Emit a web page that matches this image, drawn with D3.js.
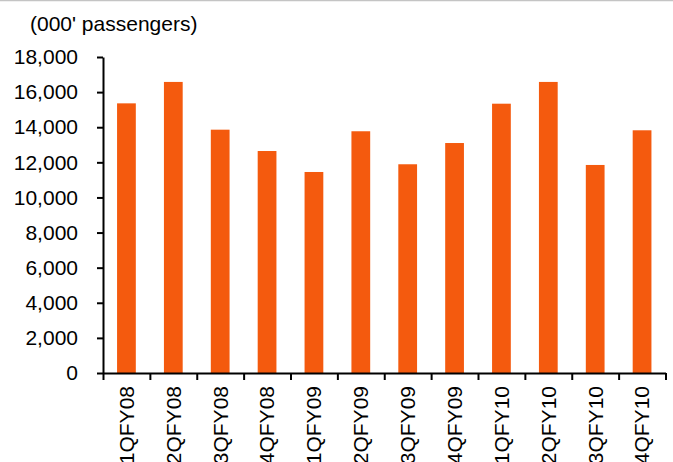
<!DOCTYPE html>
<html>
<head>
<meta charset="utf-8">
<script src="https://cdn.jsdelivr.net/npm/d3@7"></script>
<style>
  html, body { margin: 0; padding: 0; background: #ffffff; }
  svg { display: block; }
  text { font-family: "Liberation Sans", Arial, sans-serif; fill: #000; }
</style>
</head>
<body>
<svg id="chart" width="673" height="462"></svg>
<script>
const categories = ["1QFY08","2QFY08","3QFY08","4QFY08","1QFY09","2QFY09","3QFY09","4QFY09","1QFY10","2QFY10","3QFY10","4QFY10"];
const passengers = [15360, 16580, 13860, 12645, 11450, 13770, 11890, 13100, 15340, 16580, 11850, 13825];
const yTickValues = [0, 2000, 4000, 6000, 8000, 10000, 12000, 14000, 16000, 18000];
const unitLabel = "(000' passengers)";

(function () {
const svg = d3.select("#chart");
const W = 673, H = 462;
const mLeft = 103, mRight = 665.5, mTop = 57, mBottom = 373;

// top border line
svg.append("line")
  .attr("x1", 0).attr("x2", W).attr("y1", 0.5).attr("y2", 0.5)
  .attr("stroke", "#c4c4c4").attr("stroke-width", 1.5);

const x = d3.scaleBand().domain(categories).range([mLeft, mRight])
  .paddingInner(0.6).paddingOuter(0.3);
const xEdges = d3.scaleLinear().domain([0, categories.length]).range([mLeft, mRight]);
const y = d3.scaleLinear().domain([0, 18000]).range([mBottom, mTop]);

// bars
svg.append("g").selectAll("rect").data(passengers).join("rect")
  .attr("x", (d, i) => x(categories[i]))
  .attr("width", x.bandwidth())
  .attr("y", d => y(d))
  .attr("height", d => y(0) - y(d))
  .attr("fill", "#F45A0E");

// y axis
const yAxis = svg.append("g").attr("transform", `translate(${mLeft},0)`)
  .call(d3.axisLeft(y).tickValues(yTickValues).tickFormat(d3.format(","))
    .tickSize(6).tickSizeOuter(0).tickPadding(19));
yAxis.select(".domain").attr("stroke", "#000").attr("stroke-width", 2);
yAxis.selectAll(".tick line").attr("stroke", "#000").attr("stroke-width", 2);
yAxis.selectAll(".tick text").style("font-size", "21px")
  .style("font-family", '"Liberation Sans", Arial, sans-serif').attr("fill", "#000");

// x axis (ticks between categories)
const xAxis = svg.append("g").attr("transform", `translate(0,${mBottom})`)
  .call(d3.axisBottom(xEdges).tickValues(d3.range(categories.length + 1))
    .tickFormat("").tickSize(7).tickSizeOuter(0));
xAxis.select(".domain").attr("stroke", "#000").attr("stroke-width", 2);
xAxis.selectAll(".tick line").attr("stroke", "#000").attr("stroke-width", 2);

// x labels rotated
svg.append("g").selectAll("text").data(categories).join("text")
  .attr("transform", d => `translate(${x(d) + x.bandwidth() / 2},${mBottom + 13}) rotate(-90)`)
  .attr("text-anchor", "end")
  .attr("dy", "0.35em")
  .style("font-size", "21px")
  .text(d => d);

// unit label
svg.append("text").attr("x", 30).attr("y", 31)
  .style("font-size", "21px").text(unitLabel);
})();
</script>
</body>
</html>
